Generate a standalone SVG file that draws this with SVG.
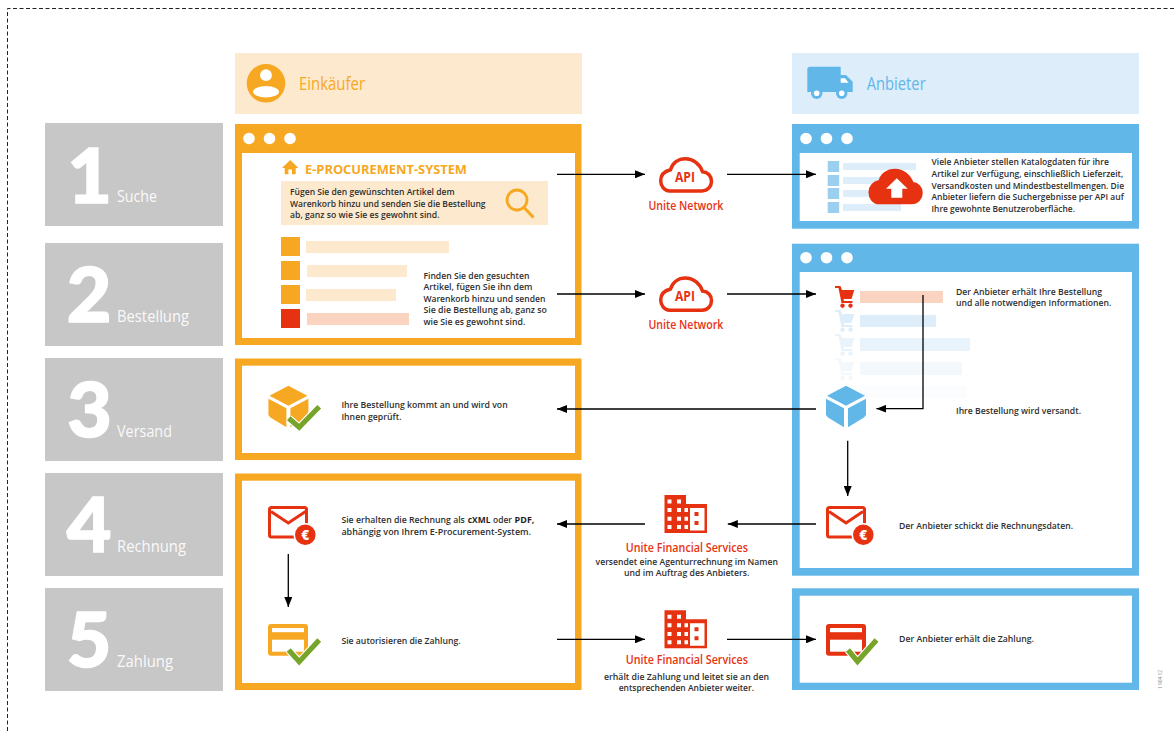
<svg xmlns="http://www.w3.org/2000/svg" xmlns:xlink="http://www.w3.org/1999/xlink" width="1174" height="733" viewBox="0 0 1174 733">
<style>
text{font-family:"Open Sans","Noto Sans","Liberation Sans",sans-serif}
.t{font-size:9.6px;font-weight:600;fill:#2f2f2f}
.tb{font-size:9.6px;font-weight:700;fill:#1f1f1f}
.num{font-family:Lato,"Open Sans",sans-serif;font-size:77px;font-weight:900;fill:#fff;stroke:#fff;stroke-width:1.6;text-anchor:middle}
.lab{font-size:17px;fill:#fff;fill-opacity:.92}
.red{font-size:13px;font-weight:600;fill:#e73212}
.api{font-size:13.5px;font-weight:700;fill:#e73212;text-anchor:middle}
.o{fill:#f7a823}.b{fill:#62b7e9}.r{fill:#e73212}.w{fill:#fff}.g{fill:#c8c7c7}
.po{fill:#fde9cd}.pb{fill:#ddedfa}.pr{fill:#fad4c0}
.c{fill:none;stroke:#000;stroke-width:1.3}
.chk{fill:none;stroke:#76a52a;stroke-width:5.2;stroke-linejoin:miter}
.halo{fill:none;stroke:#fff;stroke-width:7.5}
</style>
<defs>
<marker id="ah" markerUnits="userSpaceOnUse" markerWidth="10" markerHeight="8" refX="10" refY="4" orient="auto"><path d="M0 0L10 4L0 8Z" fill="#000"/></marker>
<path id="cloud" d="M669.5 190.900H702C708 190.900 711.500 186.200 711.500 181.200C711.500 176.200 708 172.200 702.500 171.700C700 164.200 693 158.700 685.500 158.700C678 158.700 672.500 163.200 670.500 169.700C664.500 171.200 660.700 175.200 660.700 180.700C660.700 186.200 664.500 190.900 669.500 190.900Z"/>
<g id="building">
<path class="r" d="M664.500 495H686V504H707V533H664.500Z"/>
<path class="w" d="M667.500 499.500h4v4h-4zM677 499.500h4v4h-4zM667.500 508h4v4h-4zM677 508h4v4h-4zM667.500 516.800h4v4h-4zM677 516.800h4v4h-4zM667.500 525h4v4h-4zM677 525h4v4h-4z"/>
<path class="w" d="M684.500 508h3.500v4h-3.500zM684.500 516.800h3.500v4h-3.500zM684.500 525h3.500v4h-3.500z"/>
<path class="w" d="M690 508H704.500V530.500H690ZM694.500 512V516H698.500V512ZM694.500 521V525H698.500V521Z" fill-rule="evenodd"/>
</g>
<path id="cube" d="M846 385.700L865 395.700L846 405.700L827 395.700ZM826 398.700L844 408.300V427.300L828 417.500L826 415ZM848 408.300L866 398.700V415L864 417.500L848 427.300Z"/>
<path id="cart" d="M835 286H840.500L842 290H854.300L851.500 299H843.500L844 301H852.500V303H841.500L838.500 288H835ZM842.500 303.500a2.200 2.200 0 1 0 .01 0ZM850.500 303.500a2.200 2.200 0 1 0 .01 0Z"/>
</defs>

<path d="M1174 8.500H7.500V733" fill="none" stroke="#222" stroke-width="1" stroke-dasharray="4 2.500"/>

<g id="step-1"><rect class="g" x="45" y="123" width="178" height="103"/><text class="num" x="89.500" y="202.500">1</text><text class="lab" x="117" y="202" textLength="40" lengthAdjust="spacingAndGlyphs">Suche</text></g>
<g id="step-2"><rect class="g" x="45" y="243" width="178" height="103"/><text class="num" x="89" y="322">2</text><text class="lab" x="117" y="322" textLength="72" lengthAdjust="spacingAndGlyphs">Bestellung</text></g>
<g id="step-3"><rect class="g" x="45" y="358" width="178" height="103"/><text class="num" x="89.500" y="437">3</text><text class="lab" x="117" y="437" textLength="55" lengthAdjust="spacingAndGlyphs">Versand</text></g>
<g id="step-4"><rect class="g" x="45" y="473" width="178" height="103"/><text class="num" x="89" y="552">4</text><text class="lab" x="117" y="552" textLength="69" lengthAdjust="spacingAndGlyphs">Rechnung</text></g>
<g id="step-5"><rect class="g" x="45" y="588" width="178" height="103"/><text class="num" x="89" y="667">5</text><text class="lab" x="117" y="667" textLength="56" lengthAdjust="spacingAndGlyphs">Zahlung</text></g>

<g id="header-einkaeufer">
<rect class="po" x="235" y="53" width="347" height="61"/>
<circle class="o" cx="266" cy="83.300" r="19.300"/>
<circle class="w" cx="266" cy="75.200" r="5.900"/>
<ellipse class="w" cx="266" cy="91.700" rx="13" ry="5.700"/>
<text x="299" y="90" font-size="18" fill="#f7a823" textLength="66" lengthAdjust="spacingAndGlyphs">Einkäufer</text>
</g>
<g id="header-anbieter">
<rect class="pb" x="792" y="53" width="347" height="61"/>
<path class="b" d="M810 66.700H840.700V75H846L852.700 81.700V92H807.300V69.400A2.700 2.700 0 0 1 810 66.700Z"/>
<path class="w" d="M840.700 78.300H845L848.600 82.700H840.700Z"/>
<circle class="b" cx="816.700" cy="93.300" r="5.700"/><circle class="w" cx="816.700" cy="93.300" r="2.800"/>
<circle class="b" cx="841.700" cy="93.300" r="5.700"/><circle class="w" cx="841.700" cy="93.300" r="2.800"/>
<text x="866.700" y="90" font-size="18" fill="#62b7e9" textLength="59" lengthAdjust="spacingAndGlyphs">Anbieter</text>
</g>

<g id="buyer-window-1">
<rect class="o" x="235" y="124" width="346.500" height="221"/>
<rect class="w" x="242" y="153" width="333" height="185"/>
<circle class="w" cx="249" cy="138.500" r="5.800"/><circle class="w" cx="269.500" cy="138.500" r="5.800"/><circle class="w" cx="290" cy="138.500" r="5.800"/>
<path class="o" d="M290.200 160L298.500 168H295.700V174.300H292V169.500H288.400V174.300H284.700V168H282Z"/>
<text x="305" y="174.300" font-size="13" font-weight="700" fill="#f7a823" textLength="162" lengthAdjust="spacingAndGlyphs">E-PROCUREMENT-SYSTEM</text>
<rect class="po" x="281" y="181" width="267" height="44"/>
<text class="t" x="290" y="195.300" textLength="164.600" lengthAdjust="spacingAndGlyphs">Fügen Sie den gewünschten Artikel dem</text>
<text class="t" x="290" y="207.300" textLength="195.500" lengthAdjust="spacingAndGlyphs">Warenkorb hinzu und senden Sie die Bestellung</text>
<text class="t" x="290" y="218.300" textLength="149.600" lengthAdjust="spacingAndGlyphs">ab, ganz so wie Sie es gewohnt sind.</text>
<circle cx="517" cy="200" r="10" fill="none" stroke="#f7a823" stroke-width="2.800"/>
<path d="M524 207.500L532.500 216.500" fill="none" stroke="#f7a823" stroke-width="3.200" stroke-linecap="round"/>
<rect class="o" x="281" y="237" width="19" height="19"/><rect class="po" x="306" y="241" width="143" height="12"/>
<rect class="o" x="281" y="261" width="19" height="19"/><rect class="po" x="307" y="265" width="100" height="12"/>
<rect class="o" x="281" y="285" width="19" height="19"/><rect class="po" x="306" y="289" width="90" height="12"/>
<rect class="r" x="281" y="309" width="19" height="19"/><rect class="pr" x="307" y="313" width="102" height="12"/>
<text class="t" x="423.400" y="279.300" textLength="106" lengthAdjust="spacingAndGlyphs">Finden Sie den gesuchten</text>
<text class="t" x="423.400" y="290.300" textLength="109" lengthAdjust="spacingAndGlyphs">Artikel, fügen Sie ihn dem</text>
<text class="t" x="423.400" y="302" textLength="122" lengthAdjust="spacingAndGlyphs">Warenkorb hinzu und senden</text>
<text class="t" x="423.400" y="313.300" textLength="123.600" lengthAdjust="spacingAndGlyphs">Sie die Bestellung ab, ganz so</text>
<text class="t" x="423.400" y="325" textLength="102" lengthAdjust="spacingAndGlyphs">wie Sie es gewohnt sind.</text>
</g>

<g id="buyer-window-3">
<rect class="o" x="235" y="358.500" width="346.500" height="101.500"/>
<rect class="w" x="242" y="365.700" width="333" height="87.300"/>
<use xlink:href="#cube" href="#cube" class="o" transform="translate(-557.600 0)"/>
<path class="halo" d="M288.700 418.300L299.200 427.300L319.200 406.700"/>
<path class="chk" d="M288.700 418.300L299.200 427.300L319.200 406.700"/>
<text class="t" x="341.400" y="408.300" textLength="166.300" lengthAdjust="spacingAndGlyphs">Ihre Bestellung kommt an und wird von</text>
<text class="t" x="341.400" y="420" textLength="60.200" lengthAdjust="spacingAndGlyphs">Ihnen geprüft.</text>
</g>

<g id="buyer-window-4-5">
<rect class="o" x="235" y="473.500" width="346.500" height="216.500"/>
<rect class="w" x="242" y="480.700" width="333" height="202.300"/>
<g id="buyer-invoice-icon">
<rect x="269.500" y="507.500" width="37" height="29.500" rx="2" fill="#fff" stroke="#e73212" stroke-width="3"/>
<path d="M271 511.500L288.300 523L305.600 511.500" fill="none" stroke="#e73212" stroke-width="3"/>
<circle class="w" cx="305.300" cy="534.700" r="11.800"/><circle class="r" cx="305.300" cy="534.700" r="10.300"/>
<text x="305.300" y="539.500" font-size="13.500" font-weight="800" fill="#fff" text-anchor="middle">€</text>
</g>
<g id="buyer-card-icon">
<rect class="o" x="268" y="624" width="40" height="31.700" rx="3"/>
<rect class="w" x="272" y="628" width="32" height="4.200"/>
<rect class="w" x="272" y="639.700" width="32" height="12"/>
<path class="halo" d="M288.700 650L299.200 661.700L319.200 640"/>
<path class="chk" d="M288.700 650L299.200 661.700L319.200 640"/>
</g>
<text class="t" transform="translate(341.400 523.300) scale(.88 1)" textLength="140.300" lengthAdjust="spacingAndGlyphs">Sie erhalten die Rechnung als</text>
<text class="tb" transform="translate(467.800 523.300) scale(.85 1)" textLength="26.600" lengthAdjust="spacingAndGlyphs">cXML</text>
<text class="t" x="493" y="523.300" textLength="19" lengthAdjust="spacingAndGlyphs">oder</text>
<text class="tb" x="514.600" y="523.300" textLength="19.800" lengthAdjust="spacingAndGlyphs">PDF,</text>
<text class="t" x="341.400" y="535" textLength="189.600" lengthAdjust="spacingAndGlyphs">abhängig von Ihrem E-Procurement-System.</text>
<text class="t" x="341.400" y="644" textLength="119.300" lengthAdjust="spacingAndGlyphs">Sie autorisieren die Zahlung.</text>
</g>

<g id="supplier-window-1">
<rect class="b" x="792" y="124" width="347" height="104.700"/>
<rect class="w" x="799.700" y="153" width="332.300" height="68"/>
<circle class="w" cx="806" cy="138.500" r="5.800"/><circle class="w" cx="826.500" cy="138.500" r="5.800"/><circle class="w" cx="847" cy="138.500" r="5.800"/>
<g fill="#9bcff0"><rect x="827.700" y="161" width="11.500" height="11"/><rect x="827.700" y="175" width="11.500" height="11"/><rect x="827.700" y="188" width="11.500" height="11"/><rect x="827.700" y="202" width="11.500" height="11"/></g>
<rect class="pb" x="843" y="163" width="73" height="7"/><rect class="pb" x="843" y="177" width="40" height="7"/><rect class="pb" x="843" y="190" width="40" height="7"/><rect class="pb" x="843" y="204" width="58" height="7"/>
<use xlink:href="#cloud" href="#cloud" class="r" transform="translate(209.500 11.700)" stroke="#e73212" stroke-width="3.500"/>
<path class="w" d="M896.800 178.300L907.700 188.800H902.300V197.700H891.300V188.800H886Z"/>
<text class="t" x="931.500" y="165" textLength="177.300" lengthAdjust="spacingAndGlyphs">Viele Anbieter stellen Katalogdaten für ihre</text>
<text class="t" x="931.500" y="177.300" textLength="191.800" lengthAdjust="spacingAndGlyphs">Artikel zur Verfügung, einschließlich Lieferzeit,</text>
<text class="t" x="931.500" y="189" textLength="192.500" lengthAdjust="spacingAndGlyphs">Versandkosten und Mindestbestellmengen. Die</text>
<text class="t" x="931.500" y="200.300" textLength="192.200" lengthAdjust="spacingAndGlyphs">Anbieter liefern die Suchergebnisse per API auf</text>
<text class="t" x="931.500" y="212.300" textLength="143.500" lengthAdjust="spacingAndGlyphs">Ihre gewohnte Benutzeroberfläche.</text>
</g>

<g id="supplier-window-2">
<rect class="b" x="792" y="243.700" width="347" height="332"/>
<rect class="w" x="799.700" y="272" width="332.300" height="296"/>
<circle class="w" cx="806" cy="257.700" r="5.800"/><circle class="w" cx="826.500" cy="257.700" r="5.800"/><circle class="w" cx="847" cy="257.700" r="5.800"/>
<use xlink:href="#cart" href="#cart" class="r"/><rect class="pr" x="860" y="291" width="83" height="12"/>
<use xlink:href="#cart" href="#cart" fill="#ddedfa" transform="translate(0 24)"/><rect class="pb" x="860" y="315" width="76" height="12"/>
<use xlink:href="#cart" href="#cart" fill="#e9f3fb" transform="translate(0 48)"/><rect x="860" y="338" width="110" height="13" fill="#e9f3fb"/>
<use xlink:href="#cart" href="#cart" fill="#f3f8fd" transform="translate(0 72)"/><rect x="860" y="362" width="102" height="13" fill="#f3f8fd"/>
<rect x="860" y="386.500" width="107" height="11.500" fill="#fafcfe"/>
<use xlink:href="#cube" href="#cube" class="b"/>
<text class="t" x="956" y="295.300" textLength="146" lengthAdjust="spacingAndGlyphs">Der Anbieter erhält Ihre Bestellung</text>
<text class="t" x="956" y="306" textLength="155.400" lengthAdjust="spacingAndGlyphs">und alle notwendigen Informationen.</text>
<text class="t" x="956" y="414" textLength="125" lengthAdjust="spacingAndGlyphs">Ihre Bestellung wird versandt.</text>
<g id="supplier-invoice-icon">
<rect x="827.500" y="507.500" width="37" height="29.500" rx="2" fill="#fff" stroke="#e73212" stroke-width="3"/>
<path d="M829 511.500L846 523L863 511.500" fill="none" stroke="#e73212" stroke-width="3"/>
<circle class="w" cx="863.300" cy="534.700" r="11.800"/><circle class="r" cx="863.300" cy="534.700" r="10.300"/>
<text x="863.300" y="539.500" font-size="13.500" font-weight="800" fill="#fff" text-anchor="middle">€</text>
</g>
<text class="t" x="899" y="529" textLength="174" lengthAdjust="spacingAndGlyphs">Der Anbieter schickt die Rechnungsdaten.</text>
</g>

<g id="supplier-window-5">
<rect class="b" x="792" y="588.300" width="347" height="101.700"/>
<rect class="w" x="799.700" y="595.700" width="332.300" height="87"/>
<g id="supplier-card-icon">
<rect class="r" x="826" y="624" width="40" height="31.700" rx="3"/>
<rect class="w" x="830" y="628" width="32" height="4.200"/>
<rect class="w" x="830" y="639.700" width="32" height="12"/>
<path class="halo" d="M848 650L857.500 661.500L876.500 640"/>
<path class="chk" d="M848 650L857.500 661.500L876.500 640"/>
</g>
<text class="t" x="899" y="642" textLength="135" lengthAdjust="spacingAndGlyphs">Der Anbieter erhält die Zahlung.</text>
</g>

<g id="unite-network-1">
<use xlink:href="#cloud" href="#cloud" fill="#fff" stroke="#e73212" stroke-width="3.500"/>
<text class="api" x="685" y="182.300" textLength="20" lengthAdjust="spacingAndGlyphs">API</text>
<text class="red" x="648.500" y="210" textLength="74.800" lengthAdjust="spacingAndGlyphs">Unite Network</text>
</g>
<g id="unite-network-2">
<use xlink:href="#cloud" href="#cloud" fill="#fff" stroke="#e73212" stroke-width="3.500" transform="translate(0 119.300)"/>
<text class="api" x="685" y="301.300" textLength="20" lengthAdjust="spacingAndGlyphs">API</text>
<text class="red" x="648.500" y="329" textLength="74.800" lengthAdjust="spacingAndGlyphs">Unite Network</text>
</g>
<g id="unite-financial-1">
<use xlink:href="#building" href="#building"/>
<text class="red" x="625.800" y="551.700" textLength="122.200" lengthAdjust="spacingAndGlyphs">Unite Financial Services</text>
<text class="t" x="595.600" y="565" textLength="182.400" lengthAdjust="spacingAndGlyphs">versendet eine Agenturrechnung im Namen</text>
<text class="t" x="624" y="575.700" textLength="125.400" lengthAdjust="spacingAndGlyphs">und im Auftrag des Anbieters.</text>
</g>
<g id="unite-financial-2">
<use xlink:href="#building" href="#building" transform="translate(0 115.300)"/>
<text class="red" x="625.800" y="663.700" textLength="122.200" lengthAdjust="spacingAndGlyphs">Unite Financial Services</text>
<text class="t" x="604" y="680" textLength="165" lengthAdjust="spacingAndGlyphs">erhält die Zahlung und leitet sie an den</text>
<text class="t" x="618.700" y="690.700" textLength="135.300" lengthAdjust="spacingAndGlyphs">entsprechenden Anbieter weiter.</text>
</g>

<text transform="translate(1162 689) rotate(-90)" font-size="5" fill="#8a8a8a" textLength="19">1 904 12</text>

<g id="connectors">
<path class="c" marker-end="url(#ah)" d="M557 174.300H645"/>
<path class="c" marker-end="url(#ah)" d="M727 174.300H816"/>
<path class="c" marker-end="url(#ah)" d="M557 294H645"/>
<path class="c" marker-end="url(#ah)" d="M727 294H816"/>
<path class="c" marker-end="url(#ah)" d="M923 295V408.700H876.400"/>
<path class="c" marker-end="url(#ah)" d="M816 409H557"/>
<path class="c" marker-end="url(#ah)" d="M847.700 440.700V496"/>
<path class="c" marker-end="url(#ah)" d="M816 524H727.800"/>
<path class="c" marker-end="url(#ah)" d="M645 524H557"/>
<path class="c" marker-end="url(#ah)" d="M288.300 554V607"/>
<path class="c" marker-end="url(#ah)" d="M557 639.300H645"/>
<path class="c" marker-end="url(#ah)" d="M727 639.300H816"/>
</g>
</svg>
